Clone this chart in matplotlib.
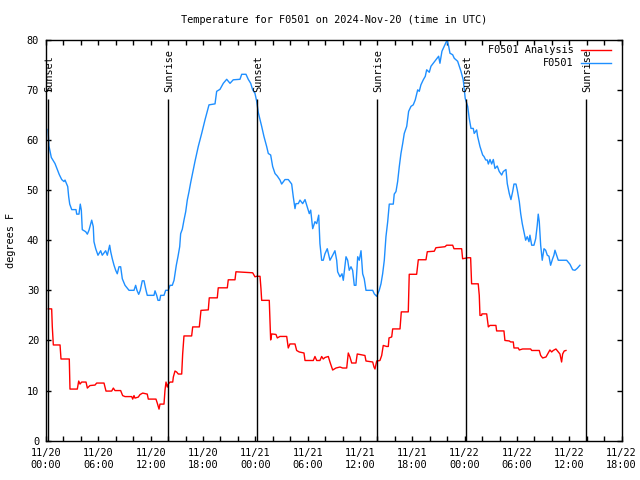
import matplotlib
matplotlib.use("Agg")
import matplotlib.pyplot as plt

# ---- data (hours since 2024-11-20 00:00 UTC) ----
obs_hours = [0.23, 0.34, 0.61, 1.03, 1.30, 1.52, 1.80, 2.06, 2.18, 2.49, 2.60, 2.72, 2.95, 3.44, 3.52, 3.78,
             3.93, 4.05, 4.16, 4.55, 4.74, 4.93, 5.24, 5.42, 5.50, 5.70, 5.96, 6.27, 6.45, 6.84, 7.03, 7.30,
             7.42, 7.60, 7.80, 7.99, 8.17, 8.37, 8.56, 8.75, 9.06, 9.52, 10.09, 10.28, 10.43, 10.63, 10.81,
             11.04, 11.24, 11.43, 11.61, 12.38, 12.50, 12.69, 12.84, 13.04, 13.15, 13.53, 13.72, 14.02, 14.22,
             14.48, 14.68, 14.79, 14.94, 15.13, 15.33, 15.44, 15.63, 15.82, 16.02, 16.20, 16.40, 16.59, 16.85,
             17.08, 17.46, 17.85, 18.23, 18.69, 19.38, 19.57, 19.95, 20.33, 20.72, 21.10, 21.47, 22.24, 22.44,
             22.93, 23.19, 23.47, 23.70, 23.96, 24.16, 24.34, 24.73, 24.99, 25.30, 25.49, 25.76, 25.99, 26.26,
             26.52, 26.83, 27.02, 27.40, 27.78, 28.17, 28.35, 28.55, 28.66, 28.93, 29.12, 29.43, 29.70, 29.89,
             30.19, 30.35, 30.58, 30.84, 31.04, 31.27, 31.41, 31.61, 31.79, 31.99, 32.25, 32.56, 32.87, 33.13,
             33.33, 33.44, 33.71, 33.94, 34.09, 34.40, 34.59, 34.77, 34.97, 35.16, 35.35, 35.54, 35.74, 35.92,
             36.12, 36.31, 36.49, 36.69, 37.46, 37.64, 37.92, 38.21, 38.41, 38.60, 38.79, 38.98, 39.18, 39.36,
             39.82, 39.93, 40.13, 40.32, 40.51, 40.70, 40.90, 41.08, 41.36, 41.58, 41.85, 42.11, 42.34, 42.62,
             42.80, 42.99, 43.26, 43.49, 43.65, 43.95, 44.14, 44.40, 44.71, 45.02, 45.17, 45.40, 45.67, 45.98,
             46.17, 46.32, 46.63, 46.81, 47.20, 47.58, 47.84, 48.07, 48.35, 48.53, 48.73, 48.99, 49.10, 49.38,
             49.49, 49.76, 50.07, 50.22, 50.42, 50.60, 50.72, 50.91, 51.10, 51.29, 51.48, 51.74, 51.97, 52.25,
             52.43, 52.74, 52.89, 53.12, 53.31, 53.51, 53.66, 53.89, 54.04, 54.27, 54.43, 54.61, 54.80, 55.00,
             55.18, 55.38, 55.49, 55.69, 55.95, 56.15, 56.33, 56.44, 56.56, 56.72, 56.90, 57.10, 57.29, 57.48,
             57.67, 57.86, 58.09, 58.24, 58.36, 58.55, 58.74, 59.70, 60.08, 60.39, 60.65, 60.92, 61.22]
obs_temp = [62.1, 58.8, 56.5, 55.3, 54.1, 53.1, 52.1, 51.7, 52.0, 50.7, 48.7, 47.2, 46.1, 46.1, 45.2, 45.2,
            47.2, 46.0, 42.1, 41.7, 41.2, 42.0, 44.0, 42.7, 39.7, 38.3, 37.0, 37.9, 37.0, 37.9, 37.0, 39.0,
            37.7, 36.3, 35.0, 34.0, 33.3, 34.7, 34.7, 32.3, 31.0, 30.0, 30.0, 31.0, 30.0, 29.2, 30.0,
            31.9, 31.9, 30.3, 29.0, 29.0, 29.9, 29.0, 28.0, 28.0, 29.0, 29.0, 30.0, 30.0, 31.0,
            31.0, 32.0, 33.3, 35.0, 36.7, 38.7, 41.3, 42.2, 44.0, 45.7, 48.0, 49.7, 51.5, 53.7,
            55.7, 58.7, 61.3, 64.0, 67.0, 67.2, 69.7, 70.1, 71.3, 72.1, 71.3, 72.0, 72.1, 73.1,
            73.1, 72.1, 71.3, 70.0, 69.3, 67.7, 65.5, 62.7, 60.7, 58.7, 57.3, 57.0, 54.7, 53.3,
            52.8, 52.0, 51.2, 52.1, 52.1, 51.2, 48.7, 46.3, 47.3, 47.3, 48.0, 47.3, 48.1, 47.0,
            45.3, 46.0, 42.3, 43.7, 43.3, 45.0, 39.3, 36.0, 36.0, 37.3, 38.3, 36.0, 37.0, 37.9,
            36.0, 33.7, 32.7, 33.3, 32.0, 36.7, 36.0, 34.0, 34.7, 34.0, 31.0, 31.0, 36.7, 36.0,
            37.9, 33.3, 32.3, 30.0, 30.0, 29.3, 28.8, 30.0, 31.3, 33.3, 36.0, 40.7, 43.7, 47.2,
            47.2, 49.2, 49.7, 51.7, 54.7, 57.3, 59.3, 61.3, 62.7, 65.7, 66.7, 67.0, 68.0, 70.0,
            69.7, 71.0, 72.0, 72.7, 74.0, 73.5, 74.7, 75.3, 76.0, 76.7, 75.3, 77.7, 78.7, 79.9,
            78.7, 77.3, 77.0, 76.3, 75.7, 73.7, 72.0, 68.3, 66.7, 64.3, 62.3, 62.3, 61.3, 62.0,
            60.7, 58.7, 57.0, 56.7, 56.0, 56.0, 55.2, 56.1, 55.2, 56.1, 54.3, 54.8, 53.7, 53.0,
            53.7, 54.1, 51.3, 49.3, 48.1, 49.7, 51.2, 51.2, 50.0, 47.7, 45.3, 43.3, 41.7, 40.0,
            40.7, 39.7, 41.0, 39.0, 39.0, 40.3, 43.0, 45.2, 43.7, 39.0, 36.0, 38.3, 38.0, 37.0,
            36.8, 35.0, 36.3, 37.0, 38.0, 37.0, 36.0, 36.0, 35.2, 34.1, 34.0, 34.4, 35.0]

ana_hours = [0.26, 0.65, 0.72, 0.84, 1.61, 1.72, 2.67, 2.75, 3.59, 3.75, 3.90, 4.09, 4.59, 4.74, 5.04, 5.62,
             5.81, 6.65, 6.88, 7.53, 7.72, 7.91, 8.56, 8.79, 9.06, 9.83, 9.94, 10.09, 10.20, 10.58, 10.78,
             11.09, 11.61, 11.73, 12.61, 12.76, 12.96, 13.07, 13.53, 13.64, 13.76, 13.91, 14.02, 14.22, 14.53,
             14.60, 14.79, 14.98, 15.17, 15.56, 15.67, 15.82, 16.70, 16.82, 17.58, 17.77, 18.61, 18.72, 19.64,
             19.75, 20.79, 20.90, 21.67, 21.78, 23.70, 23.96, 24.16, 24.54, 24.65, 24.73, 25.60, 25.68, 25.76,
             25.88, 26.37, 26.52, 26.83, 27.60, 27.78, 27.97, 28.55, 28.74, 29.04, 29.58, 29.70, 30.65, 30.84,
             31.04, 31.41, 31.61, 31.79, 31.99, 32.37, 32.56, 32.87, 33.25, 33.71, 34.02, 34.48, 34.66, 34.85,
             35.05, 35.54, 35.69, 36.00, 36.57, 36.69, 37.46, 37.61, 37.72, 37.92, 38.29, 38.49, 38.67, 39.06,
             39.25, 39.33, 39.64, 39.75, 40.59, 40.74, 41.54, 41.65, 42.50, 42.69, 43.57, 43.72, 44.52, 44.71,
             45.75, 45.94, 46.63, 46.78, 47.66, 47.77, 48.38, 48.69, 48.80, 49.56, 49.68, 49.76, 49.95, 49.99,
             50.53, 50.64, 50.72, 50.91, 51.59, 51.67, 52.51, 52.62, 53.12, 53.28, 53.58, 53.66, 54.15, 54.27,
             54.65, 55.57, 55.69, 56.56, 56.72, 56.95, 57.33, 57.59, 57.78, 57.98, 58.16, 58.47, 58.74, 58.93,
             59.12, 59.24, 59.42, 59.62]
ana_temp = [26.3, 26.3, 22.8, 19.1, 19.1, 16.3, 16.3, 10.3, 10.3, 11.9, 11.3, 11.7, 11.7, 10.5, 11.0, 11.1,
            11.5, 11.5, 9.9, 9.9, 10.5, 10.0, 10.0, 9.0, 8.8, 8.8, 8.3, 9.0, 8.5, 8.7, 9.2,
            9.5, 9.3, 8.3, 8.3, 7.5, 6.3, 7.3, 7.3, 10.0, 11.7, 10.7, 11.3, 11.7, 11.7,
            12.7, 13.9, 13.7, 13.3, 13.3, 17.3, 20.9, 20.9, 22.7, 22.7, 26.0, 26.1, 28.5, 28.5,
            30.5, 30.5, 32.1, 32.1, 33.7, 33.5, 32.7, 32.8, 32.8, 30.3, 28.0, 28.0, 24.0, 20.1,
            21.3, 21.2, 20.5, 20.8, 20.8, 18.5, 19.3, 19.3, 18.0, 17.7, 17.5, 16.0, 16.0, 16.8,
            16.0, 16.0, 16.8, 16.3, 16.6, 16.8, 15.7, 14.1, 14.5, 14.7, 14.5, 14.5, 17.5, 16.7,
            15.5, 15.5, 17.3, 17.2, 17.0, 15.9, 15.7, 14.7, 14.3, 15.9, 16.0, 17.0, 19.0, 18.8,
            18.8, 20.5, 20.7, 22.3, 22.3, 25.7, 25.7, 33.2, 33.2, 36.1, 36.1, 37.7, 37.8, 38.5,
            38.7, 39.0, 39.0, 38.3, 38.3, 36.3, 36.5, 36.5, 31.3, 31.3, 29.0, 25.0, 25.0, 25.3,
            25.3, 23.7, 22.7, 23.0, 23.0, 21.9, 21.9, 20.0, 19.9, 19.7, 19.7, 18.5, 18.5, 18.1,
            18.3, 18.3, 18.0, 18.0, 17.0, 16.5, 16.7, 17.5, 18.1, 17.7, 18.0, 18.3, 17.7, 17.3,
            15.7, 17.3, 17.9, 18.0]

sun_hours = [0.26, 14.02, 24.20, 38.00, 48.15, 61.97]
sun_labels = ["Sunset", "Sunrise", "Sunset", "Sunrise", "Sunset", "Sunrise"]

xtick_hours = [0, 6, 12, 18, 24, 30, 36, 42, 48, 54, 60, 66]
xtick_labels = ["11/20\n00:00", "11/20\n06:00", "11/20\n12:00", "11/20\n18:00",
                "11/21\n00:00", "11/21\n06:00", "11/21\n12:00", "11/21\n18:00",
                "11/22\n00:00", "11/22\n06:00", "11/22\n12:00", "11/22\n18:00"]
ytick_vals = [0, 10, 20, 30, 40, 50, 60, 70, 80]

# ---- style ----
FONT = "DejaVu Sans Mono"
FS = 7.4
plt.rcParams["font.family"] = FONT
plt.rcParams["font.size"] = FS

fig = plt.figure(figsize=(6.4, 4.8), dpi=100)
ax = fig.add_axes([46 / 640, 1 - 440.7 / 480, 575.6 / 640, 401 / 480])

ax.plot(ana_hours, ana_temp, color="#ff0000", lw=1.0, label="F0501 Analysis")
ax.plot(obs_hours, obs_temp, color="#1e8fff", lw=1.0, label="F0501")

ax.vlines(sun_hours, 0, 68.1, color="black", lw=1.0)
for h, lab in zip(sun_hours, sun_labels):
    ax.text(h + 0.12, 69.6, lab, rotation=90, ha="center", va="bottom", fontsize=FS)

ax.set_xlim(0, 66)
ax.set_ylim(0, 80)
ax.set_xticks(xtick_hours)
ax.set_xticklabels(xtick_labels, linespacing=1.25)
ax.set_xticks(list(range(0, 67, 2)), minor=True)
ax.set_yticks(ytick_vals)
ax.tick_params(axis="both", which="both", direction="in", top=True, right=True,
               length=3.6, width=1, labelsize=FS)
ax.tick_params(axis="x", which="major", pad=5)
ax.tick_params(axis="y", which="major", pad=5)
for s in ax.spines.values():
    s.set_linewidth(1)

leg = ax.legend(loc="upper right", bbox_to_anchor=(0.981, 0.986), frameon=False,
                markerfirst=False, handlelength=2.9, handletextpad=0.7,
                labelspacing=0.3, borderaxespad=0, borderpad=0, fontsize=FS)

fig.text(334 / 640, 1 - 20 / 480, "Temperature for F0501 on 2024-Nov-20 (time in UTC)",
         ha="center", va="center", fontsize=FS)
fig.text(11 / 640, 1 - 240 / 480, "degrees F", rotation=90, ha="center", va="center", fontsize=FS)

fig.savefig("out.png", dpi=100)
